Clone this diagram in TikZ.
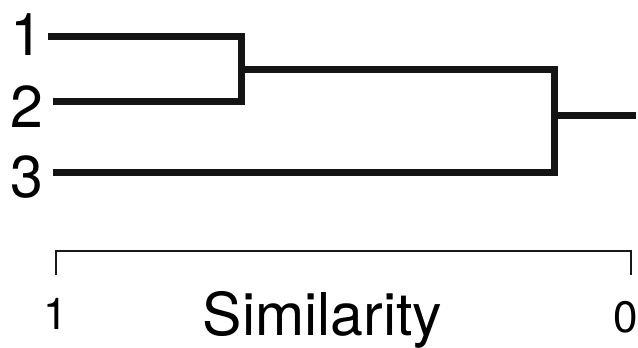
\documentclass[tikz,border=0pt]{standalone}
\usepackage{fontspec}
\setmainfont{TeX Gyre Heros}
\begin{document}
\begin{tikzpicture}[x=1pt,y=-1pt,
  branch/.style={line width=7pt,draw=black!92},
  axisline/.style={line width=2.3pt,draw=black!90},
  leaflabel/.style={anchor=base,inner sep=0pt,font=\fontsize{59}{60}\selectfont},
  ticklabel/.style={anchor=base,inner sep=0pt,font=\fontsize{44}{46}\selectfont},
  axislabel/.style={anchor=base,inner sep=0pt,font=\fontsize{59}{60}\selectfont}]
\useasboundingbox (0,0) rectangle (638,348);
% leaf labels
\node[leaflabel] (l1) at (27,56) {1};
\node[leaflabel] (l2) at (27,127) {2};
\node[leaflabel] (l3) at (27,197) {3};
% dendrogram points
\coordinate (a1) at (48,36);
\coordinate (a2) at (53,101);
\coordinate (a3) at (53,172);
\coordinate (m12) at (241.3,69.5);
\coordinate (m123) at (554,115.5);
\coordinate (root) at (636,115.5);
\draw[branch] (a1) -| (m12) |- (a2);
\draw[branch] (m12) -| (m123) |- (a3);
\draw[branch] (m123) -- (root);
% axis
\coordinate (t0) at (55.7,275);
\coordinate (ax0) at (55.7,251);
\coordinate (ax1) at (630.7,251);
\coordinate (t1) at (630.7,275);
\draw[axisline] (t0) -- (ax0) -- (ax1) -- (t1);
\node[ticklabel] (s1) at (55.5,329.5) {1};
\node[ticklabel] (s0) at (625.5,332) {0};
\node[axislabel] (sim) at (322.5,335) {Similarity};
\end{tikzpicture}
\end{document}
